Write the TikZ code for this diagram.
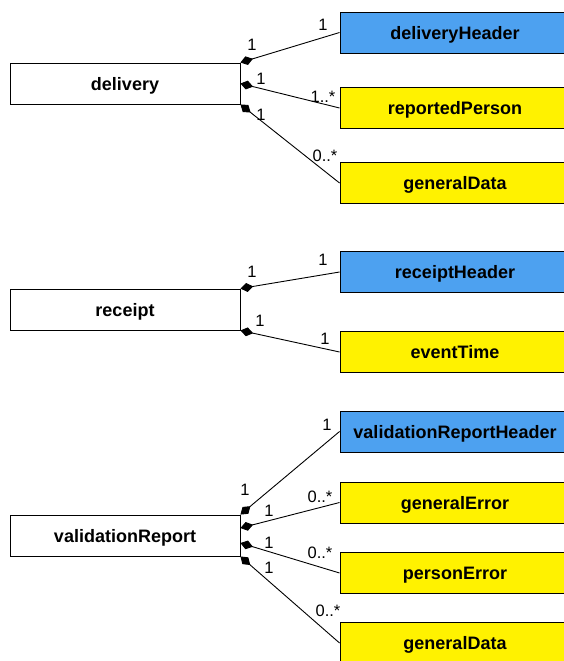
\documentclass[tikz,border=0pt]{standalone}
\usepackage{fontspec}
\setmainfont{Liberation Sans}
\usetikzlibrary{arrows.meta}

\definecolor{hdrblue}{RGB}{77,161,240}
\definecolor{partyellow}{RGB}{255,242,0}

\begin{document}
\begin{tikzpicture}[x=1pt,y=-1pt,
  wholebox/.style={draw, fill=white, line width=.9pt, minimum width=230pt,
    minimum height=41pt, inner sep=0pt, text depth=0pt,
    font=\fontsize{18}{20}\selectfont\bfseries},
  hdrbox/.style={wholebox, fill=hdrblue},
  partbox/.style={wholebox, fill=partyellow},
  comp/.style={{Diamond[length=13pt,width=9pt]}-, line width=.9pt},
  mult/.style={font=\fontsize{16.5}{18}\selectfont}]
\useasboundingbox (0,0) rectangle (564,661);
% whole classes
\node [wholebox] (delivery) at (125,83.5) {delivery};
\node [wholebox] (receipt) at (125,309.5) {receipt};
\node [wholebox] (validationReport) at (125,535.5) {validationReport};
% parts
\node [hdrbox] (deliveryHeader) at (455,32.5) {deliveryHeader};
\node [partbox] (reportedPerson) at (455,108) {reportedPerson};
\node [partbox] (generalData) at (455,183) {generalData};
\node [hdrbox] (receiptHeader) at (455,272) {receiptHeader};
\node [partbox] (eventTime) at (455,352) {eventTime};
\node [hdrbox] (validationReportHeader) at (455,431.5) {validationReportHeader};
\node [partbox] (generalError) at (455,502.5) {generalError};
\node [partbox] (personError) at (455,573) {personError};
\node [partbox] (generalDataVal) at (455,643) {generalData};
% compositions
\draw [comp] (delivery.north east) -- (deliveryHeader.west);
\draw [comp] (delivery.east) -- (reportedPerson.west);
\draw [comp] (delivery.south east) -- (generalData.west);
\draw [comp] (receipt.north east) -- (receiptHeader.west);
\draw [comp] (receipt.south east) -- (eventTime.west);
\draw [comp] (validationReport.north east) -- (validationReportHeader.west);
\draw [comp] ([yshift=7.5pt]validationReport.east) -- (generalError.west);
\draw [comp] ([yshift=-7.5pt]validationReport.east) -- (personError.west);
\draw [comp] (validationReport.south east) -- (generalDataVal.west);
% multiplicities
\node [mult] (m1) at (252,45) {1};
\node [mult] (m2) at (323,25) {1};
\node [mult] (m3) at (261,79) {1};
\node [mult] (m4) at (323,97) {1..*};
\node [mult] (m5) at (261,115) {1};
\node [mult] (m6) at (325,156) {0..*};
\node [mult] (m7) at (252,272) {1};
\node [mult] (m8) at (323,260) {1};
\node [mult] (m9) at (260,321) {1};
\node [mult] (m10) at (325,339) {1};
\node [mult] (m11) at (245,490) {1};
\node [mult] (m12) at (327,425) {1};
\node [mult] (m13) at (269,511) {1};
\node [mult] (m14) at (320,497) {0..*};
\node [mult] (m15) at (269,543) {1};
\node [mult] (m16) at (320,553) {0..*};
\node [mult] (m17) at (269,568) {1};
\node [mult] (m18) at (328,611) {0..*};
\end{tikzpicture}
\end{document}
